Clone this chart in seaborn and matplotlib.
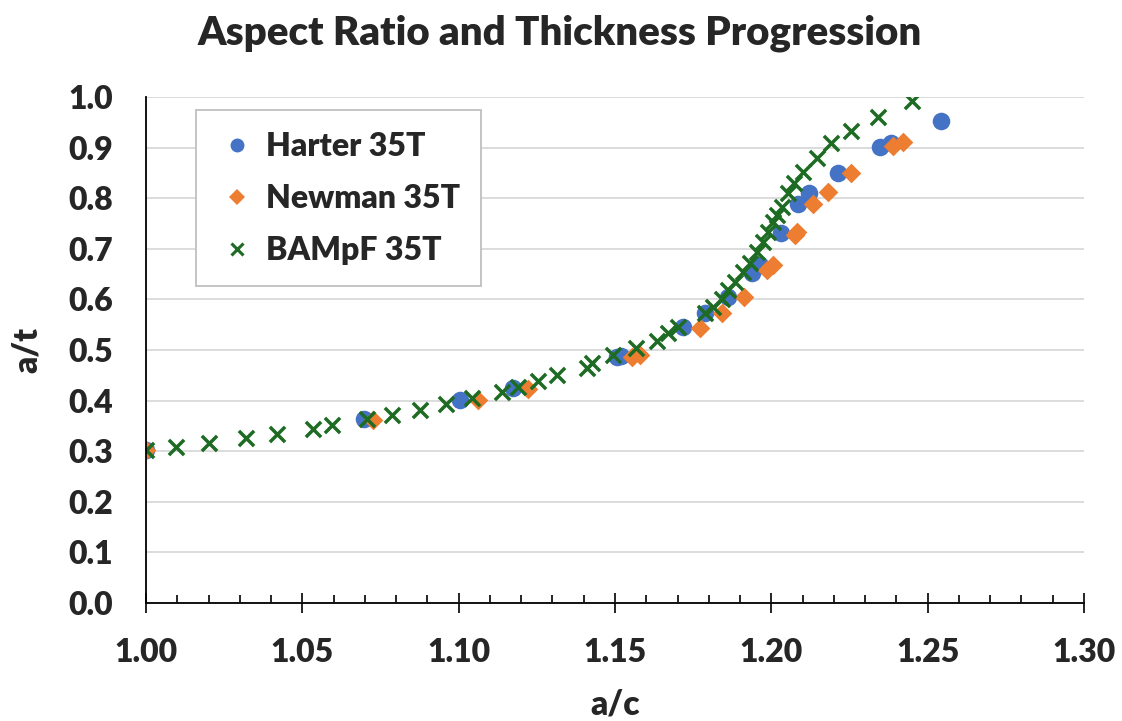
import matplotlib
matplotlib.use("Agg")
import matplotlib.pyplot as plt
from matplotlib.ticker import MultipleLocator, FormatStrFormatter
from matplotlib.lines import Line2D
import seaborn as sns
import pandas as pd

# Harter 35T crack-growth shape data (a/c, a/t)
harter_ac = [1.000, 1.0697, 1.1004, 1.1174, 1.1506, 1.1520, 1.1717, 1.1788, 1.1861,
             1.1938, 1.1964, 1.2031, 1.2085, 1.2120, 1.2213, 1.2347, 1.2382, 1.2542]
harter_at = [0.302, 0.364, 0.401, 0.425, 0.486, 0.489, 0.545, 0.573, 0.605,
             0.652, 0.668, 0.731, 0.789, 0.810, 0.850, 0.901, 0.909, 0.953]

# Newman 35T
newman_ac = [1.000, 1.0726, 1.1062, 1.1222, 1.1554, 1.1580, 1.1772, 1.1842, 1.1912,
             1.1986, 1.2005, 1.2076, 1.2082, 1.2133, 1.2181, 1.2255, 1.2389, 1.2421]
newman_at = [0.302, 0.362, 0.401, 0.423, 0.486, 0.490, 0.543, 0.573, 0.605,
             0.658, 0.668, 0.727, 0.733, 0.789, 0.812, 0.850, 0.903, 0.911]

# BAMpF 35T
bampf_ac = [1.000, 1.0096, 1.0201, 1.0320, 1.0419, 1.0534, 1.0595, 1.0707, 1.0787,
            1.0876, 1.0959, 1.1043, 1.1138, 1.1190, 1.1254, 1.1314, 1.1410, 1.1426,
            1.1493, 1.1567, 1.1634, 1.1669, 1.1701, 1.1788, 1.1813, 1.1842, 1.1861,
            1.1884, 1.1909, 1.1932, 1.1954, 1.1973, 1.1989, 1.2005, 1.2018, 1.2034,
            1.2053, 1.2072, 1.2101, 1.2146, 1.2191, 1.2255, 1.2341, 1.2450]
bampf_at = [0.302, 0.308, 0.316, 0.326, 0.334, 0.344, 0.352, 0.364, 0.372,
            0.381, 0.393, 0.405, 0.417, 0.427, 0.439, 0.451, 0.464, 0.474,
            0.490, 0.504, 0.518, 0.534, 0.545, 0.573, 0.585, 0.601, 0.619,
            0.634, 0.654, 0.672, 0.694, 0.713, 0.733, 0.753, 0.767, 0.783,
            0.810, 0.830, 0.852, 0.879, 0.909, 0.933, 0.960, 0.992]

series_names = ["Harter 35T", "Newman 35T", "BAMpF 35T"]
colors = {"Harter 35T": "#4472C4", "Newman 35T": "#ED7D31", "BAMpF 35T": "#1E6B24"}

df_h = pd.DataFrame({"a/c": harter_ac, "a/t": harter_at})
df_n = pd.DataFrame({"a/c": newman_ac, "a/t": newman_at})
df_b = pd.DataFrame({"a/c": bampf_ac, "a/t": bampf_at})

sns.set_theme(style="white")
plt.rcParams["font.family"] = ["Lato", "DejaVu Sans"]
WEIGHT = "heavy"

fig = plt.figure(figsize=(11.22, 7.21), dpi=100)
ax = fig.add_axes([146 / 1122, 1 - 603 / 721, 938 / 1122, 506 / 721])

sns.scatterplot(data=df_h, x="a/c", y="a/t", ax=ax, color=colors["Harter 35T"],
                marker="o", s=160, linewidth=0, zorder=3)
sns.scatterplot(data=df_n, x="a/c", y="a/t", ax=ax, color=colors["Newman 35T"],
                marker="D", s=100, linewidth=0, zorder=4)
sns.scatterplot(data=df_b, x="a/c", y="a/t", ax=ax, color=colors["BAMpF 35T"],
                marker="x", s=120, linewidth=2.5, zorder=5)

ax.set_xlim(1.0, 1.3)
ax.set_ylim(0.0, 1.0)
ax.xaxis.set_major_locator(MultipleLocator(0.05))
ax.xaxis.set_minor_locator(MultipleLocator(0.01))
ax.yaxis.set_major_locator(MultipleLocator(0.1))
ax.xaxis.set_major_formatter(FormatStrFormatter("%.2f"))
ax.yaxis.set_major_formatter(FormatStrFormatter("%.1f"))

ax.grid(axis="y", color="#D9D9D9", linewidth=1.3, zorder=0)
ax.grid(axis="x", visible=False)
ax.set_axisbelow(True)

for side in ("top", "right"):
    ax.spines[side].set_visible(False)
for side in ("left", "bottom"):
    ax.spines[side].set_color("black")
    ax.spines[side].set_linewidth(1.3)
    ax.spines[side].set_zorder(6)

ax.tick_params(axis="x", which="major", direction="inout", length=14, width=1.2,
               color="black", labelsize=23, pad=18, bottom=True)
ax.tick_params(axis="x", which="minor", direction="in", length=6, width=1.2,
               color="black", bottom=True)
ax.tick_params(axis="y", which="both", length=0, labelsize=23, pad=24)
for lab in ax.get_xticklabels() + ax.get_yticklabels():
    lab.set_fontweight(WEIGHT)

ax.set_xlabel("a/c", fontsize=24, fontweight=WEIGHT, labelpad=16)
ax.set_ylabel("a/t", fontsize=24, fontweight=WEIGHT, labelpad=18)
fig.suptitle("Aspect Ratio and Thickness Progression", x=560 / 1122, y=1 - 33 / 721,
             va="center", fontsize=29, fontweight=WEIGHT)

handles = [
    Line2D([], [], linestyle="none", marker="o", markersize=10,
           markerfacecolor=colors["Harter 35T"], markeredgewidth=0),
    Line2D([], [], linestyle="none", marker="D", markersize=8,
           markerfacecolor=colors["Newman 35T"], markeredgewidth=0),
    Line2D([], [], linestyle="none", marker="x", markersize=9,
           markeredgecolor=colors["BAMpF 35T"], markeredgewidth=2.2),
]
leg = ax.legend(handles, series_names, loc="upper left",
                bbox_to_anchor=((196 - 146) / 938, (603 - 110) / 506),
                frameon=True, fancybox=False, edgecolor="#BFBFBF", framealpha=1,
                prop={"size": 23, "weight": WEIGHT}, labelspacing=0.72,
                handletextpad=0.3, handlelength=1.2, borderpad=0.68, borderaxespad=0)
leg.get_frame().set_linewidth(1.3)

fig.savefig("out.png", dpi=100)
